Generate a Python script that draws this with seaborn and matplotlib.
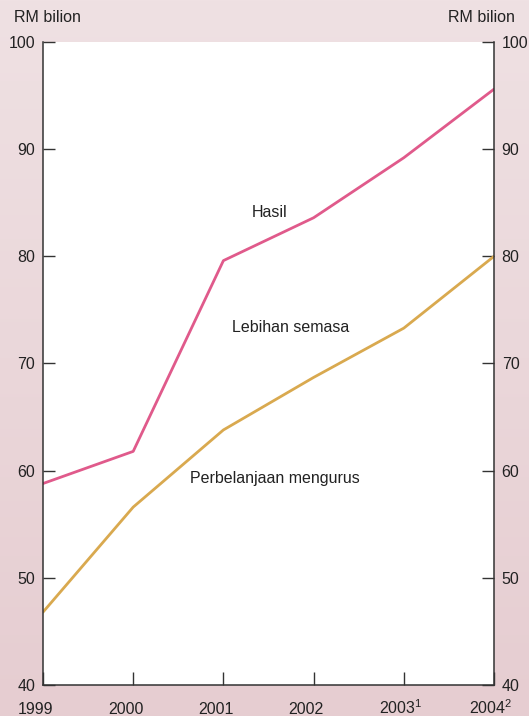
import numpy as np
import pandas as pd
import matplotlib
matplotlib.use("Agg")
import matplotlib.pyplot as plt
import matplotlib.transforms as mtransforms
from matplotlib.colors import LinearSegmentedColormap
import seaborn as sns

# Federal government revenue and operating expenditure, RM billion
years = [1999, 2000, 2001, 2002, 2003, 2004]
year_labels = ["1999", "2000", "2001", "2002", "2003$^1$", "2004$^2$"]
hasil = [58.8, 61.8, 79.6, 83.6, 89.2, 95.6]
perbelanjaan = [46.8, 56.6, 63.8, 68.7, 73.3, 80.0]
y_ticks = [40, 50, 60, 70, 80, 90, 100]

sns.set_theme(style="white")
plt.rcParams["font.family"] = ["Liberation Sans", "DejaVu Sans"]
plt.rcParams["mathtext.default"] = "regular"

FS = 11.5

df = pd.DataFrame({
    "year": years * 2,
    "value": hasil + perbelanjaan,
    "series": ["Hasil"] * len(years) + ["Perbelanjaan mengurus"] * len(years),
})

fig = plt.figure(figsize=(5.29, 7.16), dpi=100)

# soft pink vertical gradient behind everything
bg = fig.add_axes([0, 0, 1, 1], zorder=-10)
cmap = LinearSegmentedColormap.from_list("bg", ["#efe1e3", "#e6cdd1"])
bg.imshow(np.linspace(0, 1, 256).reshape(-1, 1), aspect="auto", cmap=cmap,
          extent=[0, 1, 0, 1])
bg.set_axis_off()

ax = fig.add_axes([43 / 529, 1 - 685 / 716, (494 - 43) / 529, (685 - 42) / 716])
ax.set_facecolor("white")

sns.lineplot(data=df, x="year", y="value", hue="series",
             palette={"Hasil": "#e05a8b", "Perbelanjaan mengurus": "#d9a94f"},
             linewidth=2.0, legend=False, ax=ax)

ax.set_xlim(1999, 2004)
ax.set_ylim(40, 100)
ax.set_xlabel("")
ax.set_ylabel("")

ax.set_yticks(y_ticks)
ax.set_xticks(years)
ax.set_xticklabels([])

ax.tick_params(axis="y", which="both", direction="in", length=8.5, width=1.0,
               color="#333333", labelsize=FS, labelcolor="#222222", pad=5.5,
               left=True, right=True, labelleft=True, labelright=True)
ax.tick_params(axis="x", direction="in", length=9.5, width=1.0, color="#333333",
               bottom=True, labelbottom=False)

# year labels sit slightly left of their ticks, superscripts trailing
label_tf = ax.get_xaxis_transform() + mtransforms.ScaledTranslation(
    -25 / 100, -29 / 100, fig.dpi_scale_trans)
for yr, lab in zip(years, year_labels):
    ax.text(yr, 0, lab, transform=label_tf, ha="left", va="baseline",
            fontsize=FS, color="#222222", clip_on=False)

for side in ["left", "right", "bottom"]:
    ax.spines[side].set_visible(True)
    ax.spines[side].set_color("#333333")
    ax.spines[side].set_linewidth(1.1)
ax.spines["top"].set_visible(False)

# series labels
text_kw = dict(fontsize=FS, color="#222222", ha="center", va="center")
ax.text(2001.51, 84.1, "Hasil", **text_kw)
ax.text(2001.74, 73.4, "Lebihan semasa", **text_kw)
ax.text(2001.57, 59.3, "Perbelanjaan mengurus", **text_kw)

fig.text(14 / 529, 1 - 18 / 716, "RM bilion", fontsize=FS, color="#222222",
         ha="left", va="center")
fig.text(515 / 529, 1 - 18 / 716, "RM bilion", fontsize=FS, color="#222222",
         ha="right", va="center")

fig.savefig("out.png", dpi=100)
